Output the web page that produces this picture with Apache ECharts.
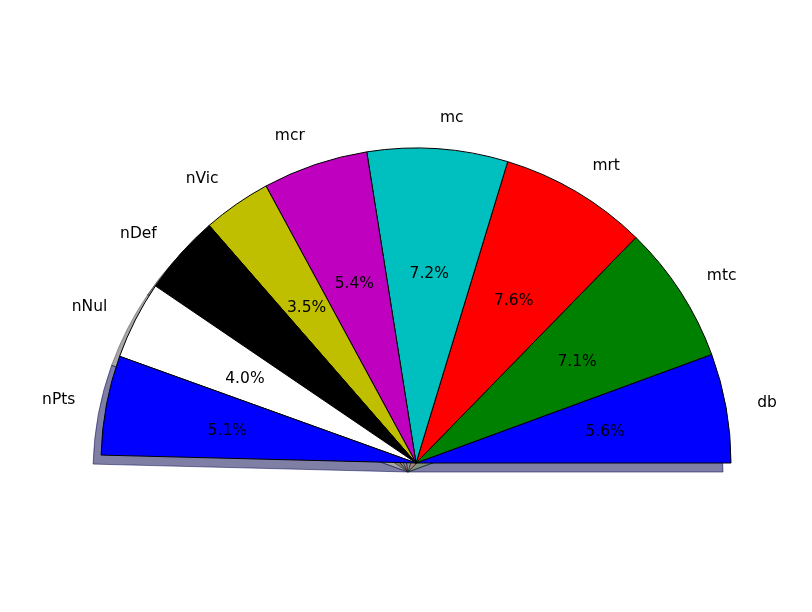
<!DOCTYPE html>
<html>
<head>
<meta charset="utf-8">
<script src="https://cdn.jsdelivr.net/npm/echarts@6/dist/echarts.min.js"></script>
<style>html,body{margin:0;padding:0;background:#fff;}#c{width:812px;height:612px;}</style>
</head>
<body>
<div id="c"></div>
<script>
const categories = ['db', 'mtc', 'mrt', 'mc', 'mcr', 'nVic', 'nDef', 'nNul', 'nPts'];
const values = [5.6, 7.1, 7.6, 7.2, 5.4, 3.5, 4.1, 4.0, 5.1];
const hiddenValue = 50.4;
const colors = ['#0000ff', '#008000', '#ff0000', '#00bfbf', '#bf00bf', '#bfbf00', '#000000', '#ffffff', '#0000ff'];

const CX = 416, CY = 463, R = 315;
const FONT = 'DejaVu Sans';
const FS = 15.5;

function shadowColor(hex) {
  const r = parseInt(hex.slice(1, 3), 16) * 0.3;
  const g = parseInt(hex.slice(3, 5), 16) * 0.3;
  const b = parseInt(hex.slice(5, 7), 16) * 0.3;
  return 'rgba(' + r.toFixed(1) + ',' + g.toFixed(1) + ',' + b.toFixed(1) + ',0.5)';
}

function buildData(kind) {
  const d = categories.map((name, i) => {
    const item = { name: name, value: values[i] };
    if (kind === 'main') {
      item.itemStyle = { color: colors[i], borderColor: '#000', borderWidth: 1 };
    } else if (kind === 'shadow') {
      const c = shadowColor(colors[i]);
      item.itemStyle = { color: c, borderColor: c, borderWidth: 1 };
    } else {
      item.itemStyle = { color: 'rgba(0,0,0,0)', borderWidth: 0 };
    }
    return item;
  });
  d.push({
    name: '', value: hiddenValue,
    itemStyle: { color: 'rgba(0,0,0,0)', borderWidth: 0 },
    label: { show: false }
  });
  return d;
}

const common = {
  type: 'pie',
  startAngle: 0,
  clockwise: false,
  avoidLabelOverlap: false,
  animation: false,
  percentPrecision: 1,
  emphasis: { disabled: true }
};

const chart = echarts.init(document.getElementById('c'), null, { renderer: 'canvas' });
chart.setOption({
  backgroundColor: '#ffffff',
  series: [
    Object.assign({}, common, {
      name: 'shadow',
      center: [CX - 8, CY + 9],
      radius: [0, R],
      silent: true,
      z: 1,
      label: { show: false },
      labelLine: { show: false },
      data: buildData('shadow')
    }),
    Object.assign({}, common, {
      name: 'main',
      center: [CX, CY],
      radius: [0, R],
      z: 2,
      label: {
        show: true,
        position: 'outside',
        color: '#000',
        fontFamily: FONT,
        fontSize: FS,
        distanceToLabelLine: 0,
        offset: [0, 1],
        formatter: '{b}'
      },
      labelLine: { show: false, length: R * 0.1, length2: 0 },
      data: buildData('main')
    }),
    Object.assign({}, common, {
      name: 'pct',
      center: [CX, CY],
      radius: [R * 0.2, R],
      silent: true,
      z: 3,
      label: {
        show: true,
        position: 'inside',
        color: '#000',
        fontFamily: FONT,
        fontSize: FS,
        offset: [0, 3],
        formatter: function (p) { return p.percent.toFixed(1) + '%'; }
      },
      labelLine: { show: false },
      data: buildData('pct')
    })
  ]
});
</script>
</body>
</html>
